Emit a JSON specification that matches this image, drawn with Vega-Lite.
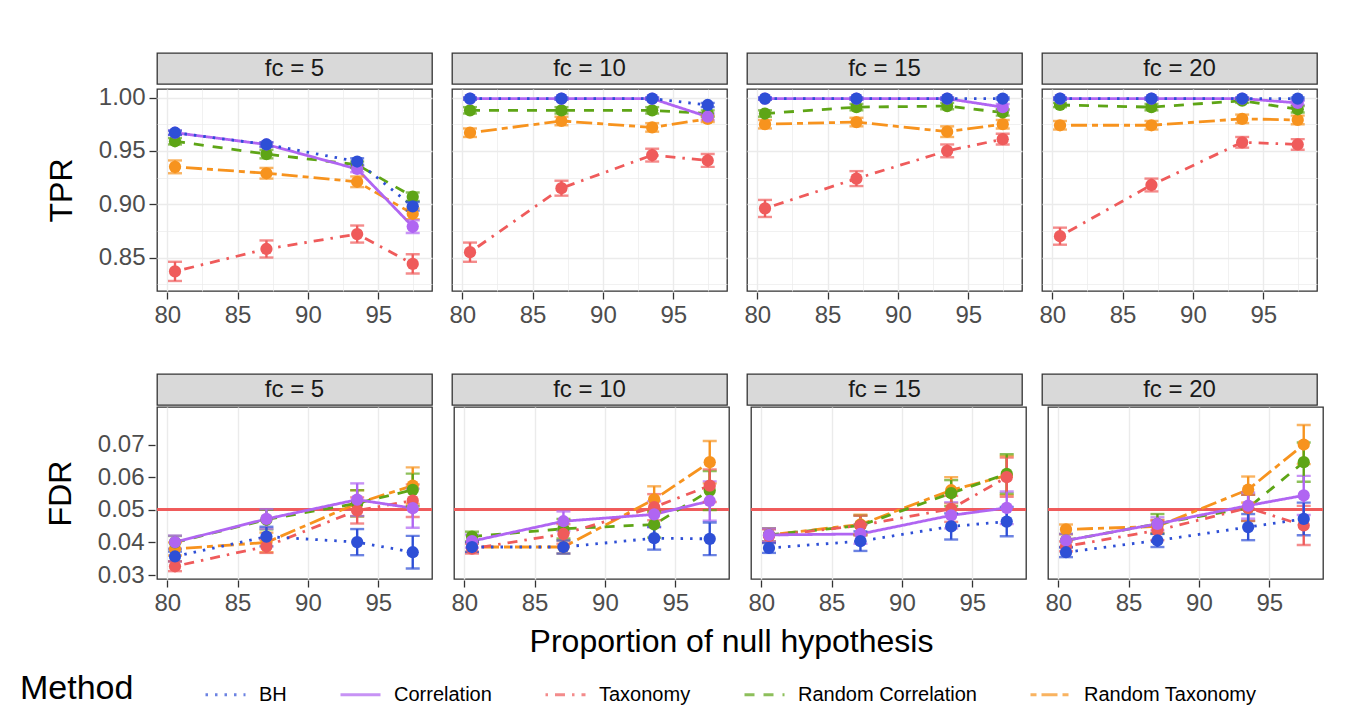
{
  "$schema": "https://vega.github.io/schema/vega-lite/v6.json",
  "padding": {"left": 20, "top": 52, "right": 20, "bottom": 0},
  "background": "white",
  "config": {
    "font": "Liberation Sans",
    "view": {"stroke": "#333333", "strokeWidth": 1.3},
    "axis": {"labelFont": "Liberation Sans", "labelFontSize": 24, "labelColor": "#4D4D4D", "tickColor": "#333333", "tickSize": 7, "tickWidth": 1.3, "domain": false, "gridColor": "#EBEBEB", "titleFont": "Liberation Sans", "titleFontWeight": "normal", "titleColor": "#000000", "titleFontSize": 32, "labelPadding": 4, "labelOverlap": false, "titlePadding": 20},
    "legend": {"direction": "horizontal", "titleOrient": "left", "titleFontSize": 34, "titleFontWeight": "normal", "titleColor": "#000000", "labelFontSize": 20, "labelColor": "#000000", "labelFont": "Liberation Sans", "titleFont": "Liberation Sans", "symbolType": "stroke", "symbolStrokeWidth": 3, "symbolSize": 1600, "columnPadding": 47, "titlePadding": 70, "labelOffset": 12, "labelLimit": 400}
  },
  "datasets": {
    "s": [{"fc": 5, "lab": "fc = 5"}, {"fc": 10, "lab": "fc = 10"}, {"fc": 15, "lab": "fc = 15"}, {"fc": 20, "lab": "fc = 20"}],
    "d": [
      {"m": "TPR", "fc": 5, "k": "Random Taxonomy", "x": 80.55, "v": 0.935, "lo": 0.929, "hi": 0.941},
      {"m": "TPR", "fc": 5, "k": "Random Taxonomy", "x": 87.05, "v": 0.929, "lo": 0.924, "hi": 0.934},
      {"m": "TPR", "fc": 5, "k": "Random Taxonomy", "x": 93.5, "v": 0.921, "lo": 0.916, "hi": 0.926},
      {"m": "TPR", "fc": 5, "k": "Random Taxonomy", "x": 97.45, "v": 0.891, "lo": 0.886, "hi": 0.896},
      {"m": "TPR", "fc": 5, "k": "Random Correlation", "x": 80.55, "v": 0.959, "lo": 0.956, "hi": 0.962},
      {"m": "TPR", "fc": 5, "k": "Random Correlation", "x": 87.05, "v": 0.947, "lo": 0.943, "hi": 0.951},
      {"m": "TPR", "fc": 5, "k": "Random Correlation", "x": 93.5, "v": 0.937, "lo": 0.934, "hi": 0.940},
      {"m": "TPR", "fc": 5, "k": "Random Correlation", "x": 97.45, "v": 0.907, "lo": 0.903, "hi": 0.911},
      {"m": "TPR", "fc": 5, "k": "Taxonomy", "x": 80.55, "v": 0.837, "lo": 0.828, "hi": 0.846},
      {"m": "TPR", "fc": 5, "k": "Taxonomy", "x": 87.05, "v": 0.858, "lo": 0.850, "hi": 0.866},
      {"m": "TPR", "fc": 5, "k": "Taxonomy", "x": 93.5, "v": 0.872, "lo": 0.864, "hi": 0.880},
      {"m": "TPR", "fc": 5, "k": "Taxonomy", "x": 97.45, "v": 0.844, "lo": 0.835, "hi": 0.853},
      {"m": "TPR", "fc": 5, "k": "Correlation", "x": 80.55, "v": 0.967, "lo": 0.965, "hi": 0.969},
      {"m": "TPR", "fc": 5, "k": "Correlation", "x": 87.05, "v": 0.956, "lo": 0.954, "hi": 0.958},
      {"m": "TPR", "fc": 5, "k": "Correlation", "x": 93.5, "v": 0.933, "lo": 0.930, "hi": 0.936},
      {"m": "TPR", "fc": 5, "k": "Correlation", "x": 97.45, "v": 0.879, "lo": 0.873, "hi": 0.885},
      {"m": "TPR", "fc": 5, "k": "BH", "x": 80.55, "v": 0.967, "lo": 0.965, "hi": 0.969},
      {"m": "TPR", "fc": 5, "k": "BH", "x": 87.05, "v": 0.956, "lo": 0.954, "hi": 0.958},
      {"m": "TPR", "fc": 5, "k": "BH", "x": 93.5, "v": 0.940, "lo": 0.937, "hi": 0.943},
      {"m": "TPR", "fc": 5, "k": "BH", "x": 97.45, "v": 0.898, "lo": 0.894, "hi": 0.902},

      {"m": "TPR", "fc": 10, "k": "Random Taxonomy", "x": 80.55, "v": 0.967, "lo": 0.963, "hi": 0.971},
      {"m": "TPR", "fc": 10, "k": "Random Taxonomy", "x": 87.05, "v": 0.978, "lo": 0.974, "hi": 0.982},
      {"m": "TPR", "fc": 10, "k": "Random Taxonomy", "x": 93.5, "v": 0.972, "lo": 0.968, "hi": 0.976},
      {"m": "TPR", "fc": 10, "k": "Random Taxonomy", "x": 97.45, "v": 0.980, "lo": 0.977, "hi": 0.983},
      {"m": "TPR", "fc": 10, "k": "Random Correlation", "x": 80.55, "v": 0.988, "lo": 0.985, "hi": 0.991},
      {"m": "TPR", "fc": 10, "k": "Random Correlation", "x": 87.05, "v": 0.988, "lo": 0.985, "hi": 0.991},
      {"m": "TPR", "fc": 10, "k": "Random Correlation", "x": 93.5, "v": 0.988, "lo": 0.985, "hi": 0.991},
      {"m": "TPR", "fc": 10, "k": "Random Correlation", "x": 97.45, "v": 0.985, "lo": 0.982, "hi": 0.988},
      {"m": "TPR", "fc": 10, "k": "Taxonomy", "x": 80.55, "v": 0.855, "lo": 0.846, "hi": 0.864},
      {"m": "TPR", "fc": 10, "k": "Taxonomy", "x": 87.05, "v": 0.915, "lo": 0.908, "hi": 0.922},
      {"m": "TPR", "fc": 10, "k": "Taxonomy", "x": 93.5, "v": 0.946, "lo": 0.940, "hi": 0.952},
      {"m": "TPR", "fc": 10, "k": "Taxonomy", "x": 97.45, "v": 0.941, "lo": 0.935, "hi": 0.947},
      {"m": "TPR", "fc": 10, "k": "Correlation", "x": 80.55, "v": 0.999, "lo": 0.998, "hi": 1.000},
      {"m": "TPR", "fc": 10, "k": "Correlation", "x": 87.05, "v": 0.999, "lo": 0.998, "hi": 1.000},
      {"m": "TPR", "fc": 10, "k": "Correlation", "x": 93.5, "v": 0.999, "lo": 0.998, "hi": 1.000},
      {"m": "TPR", "fc": 10, "k": "Correlation", "x": 97.45, "v": 0.982, "lo": 0.979, "hi": 0.985},
      {"m": "TPR", "fc": 10, "k": "BH", "x": 80.55, "v": 0.999, "lo": 0.998, "hi": 1.000},
      {"m": "TPR", "fc": 10, "k": "BH", "x": 87.05, "v": 0.999, "lo": 0.998, "hi": 1.000},
      {"m": "TPR", "fc": 10, "k": "BH", "x": 93.5, "v": 0.999, "lo": 0.998, "hi": 1.000},
      {"m": "TPR", "fc": 10, "k": "BH", "x": 97.45, "v": 0.993, "lo": 0.991, "hi": 0.995},

      {"m": "TPR", "fc": 15, "k": "Random Taxonomy", "x": 80.55, "v": 0.975, "lo": 0.971, "hi": 0.979},
      {"m": "TPR", "fc": 15, "k": "Random Taxonomy", "x": 87.05, "v": 0.977, "lo": 0.973, "hi": 0.981},
      {"m": "TPR", "fc": 15, "k": "Random Taxonomy", "x": 93.5, "v": 0.968, "lo": 0.963, "hi": 0.973},
      {"m": "TPR", "fc": 15, "k": "Random Taxonomy", "x": 97.45, "v": 0.975, "lo": 0.971, "hi": 0.979},
      {"m": "TPR", "fc": 15, "k": "Random Correlation", "x": 80.55, "v": 0.985, "lo": 0.982, "hi": 0.988},
      {"m": "TPR", "fc": 15, "k": "Random Correlation", "x": 87.05, "v": 0.991, "lo": 0.988, "hi": 0.994},
      {"m": "TPR", "fc": 15, "k": "Random Correlation", "x": 93.5, "v": 0.992, "lo": 0.989, "hi": 0.995},
      {"m": "TPR", "fc": 15, "k": "Random Correlation", "x": 97.45, "v": 0.986, "lo": 0.983, "hi": 0.989},
      {"m": "TPR", "fc": 15, "k": "Taxonomy", "x": 80.55, "v": 0.896, "lo": 0.888, "hi": 0.904},
      {"m": "TPR", "fc": 15, "k": "Taxonomy", "x": 87.05, "v": 0.924, "lo": 0.917, "hi": 0.931},
      {"m": "TPR", "fc": 15, "k": "Taxonomy", "x": 93.5, "v": 0.950, "lo": 0.944, "hi": 0.956},
      {"m": "TPR", "fc": 15, "k": "Taxonomy", "x": 97.45, "v": 0.961, "lo": 0.956, "hi": 0.966},
      {"m": "TPR", "fc": 15, "k": "Correlation", "x": 80.55, "v": 0.999, "lo": 0.998, "hi": 1.000},
      {"m": "TPR", "fc": 15, "k": "Correlation", "x": 87.05, "v": 0.999, "lo": 0.998, "hi": 1.000},
      {"m": "TPR", "fc": 15, "k": "Correlation", "x": 93.5, "v": 0.999, "lo": 0.998, "hi": 1.000},
      {"m": "TPR", "fc": 15, "k": "Correlation", "x": 97.45, "v": 0.991, "lo": 0.988, "hi": 0.994},
      {"m": "TPR", "fc": 15, "k": "BH", "x": 80.55, "v": 0.999, "lo": 0.998, "hi": 1.000},
      {"m": "TPR", "fc": 15, "k": "BH", "x": 87.05, "v": 0.999, "lo": 0.998, "hi": 1.000},
      {"m": "TPR", "fc": 15, "k": "BH", "x": 93.5, "v": 0.999, "lo": 0.998, "hi": 1.000},
      {"m": "TPR", "fc": 15, "k": "BH", "x": 97.45, "v": 0.999, "lo": 0.998, "hi": 1.000},

      {"m": "TPR", "fc": 20, "k": "Random Taxonomy", "x": 80.55, "v": 0.974, "lo": 0.970, "hi": 0.978},
      {"m": "TPR", "fc": 20, "k": "Random Taxonomy", "x": 87.05, "v": 0.974, "lo": 0.970, "hi": 0.978},
      {"m": "TPR", "fc": 20, "k": "Random Taxonomy", "x": 93.5, "v": 0.980, "lo": 0.976, "hi": 0.984},
      {"m": "TPR", "fc": 20, "k": "Random Taxonomy", "x": 97.45, "v": 0.979, "lo": 0.975, "hi": 0.983},
      {"m": "TPR", "fc": 20, "k": "Random Correlation", "x": 80.55, "v": 0.993, "lo": 0.991, "hi": 0.995},
      {"m": "TPR", "fc": 20, "k": "Random Correlation", "x": 87.05, "v": 0.991, "lo": 0.988, "hi": 0.994},
      {"m": "TPR", "fc": 20, "k": "Random Correlation", "x": 93.5, "v": 0.997, "lo": 0.995, "hi": 0.999},
      {"m": "TPR", "fc": 20, "k": "Random Correlation", "x": 97.45, "v": 0.989, "lo": 0.986, "hi": 0.992},
      {"m": "TPR", "fc": 20, "k": "Taxonomy", "x": 80.55, "v": 0.870, "lo": 0.862, "hi": 0.878},
      {"m": "TPR", "fc": 20, "k": "Taxonomy", "x": 87.05, "v": 0.918, "lo": 0.912, "hi": 0.924},
      {"m": "TPR", "fc": 20, "k": "Taxonomy", "x": 93.5, "v": 0.958, "lo": 0.953, "hi": 0.963},
      {"m": "TPR", "fc": 20, "k": "Taxonomy", "x": 97.45, "v": 0.956, "lo": 0.951, "hi": 0.961},
      {"m": "TPR", "fc": 20, "k": "Correlation", "x": 80.55, "v": 0.999, "lo": 0.998, "hi": 1.000},
      {"m": "TPR", "fc": 20, "k": "Correlation", "x": 87.05, "v": 0.999, "lo": 0.998, "hi": 1.000},
      {"m": "TPR", "fc": 20, "k": "Correlation", "x": 93.5, "v": 0.999, "lo": 0.998, "hi": 1.000},
      {"m": "TPR", "fc": 20, "k": "Correlation", "x": 97.45, "v": 0.995, "lo": 0.993, "hi": 0.997},
      {"m": "TPR", "fc": 20, "k": "BH", "x": 80.55, "v": 0.999, "lo": 0.998, "hi": 1.000},
      {"m": "TPR", "fc": 20, "k": "BH", "x": 87.05, "v": 0.999, "lo": 0.998, "hi": 1.000},
      {"m": "TPR", "fc": 20, "k": "BH", "x": 93.5, "v": 0.999, "lo": 0.998, "hi": 1.000},
      {"m": "TPR", "fc": 20, "k": "BH", "x": 97.45, "v": 0.999, "lo": 0.998, "hi": 1.000},

      {"m": "FDR", "fc": 5, "k": "Random Taxonomy", "x": 80.55, "v": 0.0380, "lo": 0.0360, "hi": 0.0400},
      {"m": "FDR", "fc": 5, "k": "Random Taxonomy", "x": 87.05, "v": 0.0400, "lo": 0.0370, "hi": 0.0430},
      {"m": "FDR", "fc": 5, "k": "Random Taxonomy", "x": 93.5, "v": 0.0520, "lo": 0.0480, "hi": 0.0560},
      {"m": "FDR", "fc": 5, "k": "Random Taxonomy", "x": 97.45, "v": 0.0574, "lo": 0.0518, "hi": 0.0630},
      {"m": "FDR", "fc": 5, "k": "Random Correlation", "x": 80.55, "v": 0.0400, "lo": 0.0380, "hi": 0.0420},
      {"m": "FDR", "fc": 5, "k": "Random Correlation", "x": 87.05, "v": 0.0470, "lo": 0.0440, "hi": 0.0500},
      {"m": "FDR", "fc": 5, "k": "Random Correlation", "x": 93.5, "v": 0.0520, "lo": 0.0480, "hi": 0.0560},
      {"m": "FDR", "fc": 5, "k": "Random Correlation", "x": 97.45, "v": 0.0561, "lo": 0.0511, "hi": 0.0611},
      {"m": "FDR", "fc": 5, "k": "Taxonomy", "x": 80.55, "v": 0.0327, "lo": 0.0312, "hi": 0.0342},
      {"m": "FDR", "fc": 5, "k": "Taxonomy", "x": 87.05, "v": 0.0388, "lo": 0.0368, "hi": 0.0408},
      {"m": "FDR", "fc": 5, "k": "Taxonomy", "x": 93.5, "v": 0.0498, "lo": 0.0458, "hi": 0.0538},
      {"m": "FDR", "fc": 5, "k": "Taxonomy", "x": 97.45, "v": 0.0528, "lo": 0.0478, "hi": 0.0578},
      {"m": "FDR", "fc": 5, "k": "Correlation", "x": 80.55, "v": 0.0401, "lo": 0.0381, "hi": 0.0421},
      {"m": "FDR", "fc": 5, "k": "Correlation", "x": 87.05, "v": 0.0472, "lo": 0.0442, "hi": 0.0502},
      {"m": "FDR", "fc": 5, "k": "Correlation", "x": 93.5, "v": 0.0531, "lo": 0.0481, "hi": 0.0581},
      {"m": "FDR", "fc": 5, "k": "Correlation", "x": 97.45, "v": 0.0505, "lo": 0.0445, "hi": 0.0565},
      {"m": "FDR", "fc": 5, "k": "BH", "x": 80.55, "v": 0.0357, "lo": 0.0342, "hi": 0.0372},
      {"m": "FDR", "fc": 5, "k": "BH", "x": 87.05, "v": 0.0418, "lo": 0.0388, "hi": 0.0448},
      {"m": "FDR", "fc": 5, "k": "BH", "x": 93.5, "v": 0.0401, "lo": 0.0361, "hi": 0.0441},
      {"m": "FDR", "fc": 5, "k": "BH", "x": 97.45, "v": 0.0370, "lo": 0.0320, "hi": 0.0420},

      {"m": "FDR", "fc": 10, "k": "Random Taxonomy", "x": 80.55, "v": 0.0386, "lo": 0.0371, "hi": 0.0401},
      {"m": "FDR", "fc": 10, "k": "Random Taxonomy", "x": 87.05, "v": 0.0386, "lo": 0.0366, "hi": 0.0406},
      {"m": "FDR", "fc": 10, "k": "Random Taxonomy", "x": 93.5, "v": 0.0532, "lo": 0.0492, "hi": 0.0572},
      {"m": "FDR", "fc": 10, "k": "Random Taxonomy", "x": 97.45, "v": 0.0646, "lo": 0.0581, "hi": 0.0711},
      {"m": "FDR", "fc": 10, "k": "Random Correlation", "x": 80.55, "v": 0.0418, "lo": 0.0403, "hi": 0.0433},
      {"m": "FDR", "fc": 10, "k": "Random Correlation", "x": 87.05, "v": 0.0442, "lo": 0.0412, "hi": 0.0472},
      {"m": "FDR", "fc": 10, "k": "Random Correlation", "x": 93.5, "v": 0.0455, "lo": 0.0415, "hi": 0.0495},
      {"m": "FDR", "fc": 10, "k": "Random Correlation", "x": 97.45, "v": 0.0559, "lo": 0.0499, "hi": 0.0619},
      {"m": "FDR", "fc": 10, "k": "Taxonomy", "x": 80.55, "v": 0.0381, "lo": 0.0366, "hi": 0.0396},
      {"m": "FDR", "fc": 10, "k": "Taxonomy", "x": 87.05, "v": 0.0426, "lo": 0.0396, "hi": 0.0456},
      {"m": "FDR", "fc": 10, "k": "Taxonomy", "x": 93.5, "v": 0.0508, "lo": 0.0468, "hi": 0.0548},
      {"m": "FDR", "fc": 10, "k": "Taxonomy", "x": 97.45, "v": 0.0574, "lo": 0.0524, "hi": 0.0624},
      {"m": "FDR", "fc": 10, "k": "Correlation", "x": 80.55, "v": 0.0404, "lo": 0.0384, "hi": 0.0424},
      {"m": "FDR", "fc": 10, "k": "Correlation", "x": 87.05, "v": 0.0465, "lo": 0.0435, "hi": 0.0495},
      {"m": "FDR", "fc": 10, "k": "Correlation", "x": 93.5, "v": 0.0486, "lo": 0.0446, "hi": 0.0526},
      {"m": "FDR", "fc": 10, "k": "Correlation", "x": 97.45, "v": 0.0527, "lo": 0.0467, "hi": 0.0587},
      {"m": "FDR", "fc": 10, "k": "BH", "x": 80.55, "v": 0.0386, "lo": 0.0371, "hi": 0.0401},
      {"m": "FDR", "fc": 10, "k": "BH", "x": 87.05, "v": 0.0386, "lo": 0.0366, "hi": 0.0406},
      {"m": "FDR", "fc": 10, "k": "BH", "x": 93.5, "v": 0.0413, "lo": 0.0378, "hi": 0.0448},
      {"m": "FDR", "fc": 10, "k": "BH", "x": 97.45, "v": 0.0411, "lo": 0.0361, "hi": 0.0461},

      {"m": "FDR", "fc": 15, "k": "Random Taxonomy", "x": 80.55, "v": 0.0423, "lo": 0.0403, "hi": 0.0443},
      {"m": "FDR", "fc": 15, "k": "Random Taxonomy", "x": 87.05, "v": 0.0455, "lo": 0.0425, "hi": 0.0485},
      {"m": "FDR", "fc": 15, "k": "Random Taxonomy", "x": 93.5, "v": 0.0560, "lo": 0.0520, "hi": 0.0600},
      {"m": "FDR", "fc": 15, "k": "Random Taxonomy", "x": 97.45, "v": 0.0605, "lo": 0.0545, "hi": 0.0665},
      {"m": "FDR", "fc": 15, "k": "Random Correlation", "x": 80.55, "v": 0.0423, "lo": 0.0403, "hi": 0.0443},
      {"m": "FDR", "fc": 15, "k": "Random Correlation", "x": 87.05, "v": 0.0452, "lo": 0.0422, "hi": 0.0482},
      {"m": "FDR", "fc": 15, "k": "Random Correlation", "x": 93.5, "v": 0.0551, "lo": 0.0511, "hi": 0.0591},
      {"m": "FDR", "fc": 15, "k": "Random Correlation", "x": 97.45, "v": 0.0610, "lo": 0.0550, "hi": 0.0670},
      {"m": "FDR", "fc": 15, "k": "Taxonomy", "x": 80.55, "v": 0.0420, "lo": 0.0400, "hi": 0.0440},
      {"m": "FDR", "fc": 15, "k": "Taxonomy", "x": 87.05, "v": 0.0452, "lo": 0.0422, "hi": 0.0482},
      {"m": "FDR", "fc": 15, "k": "Taxonomy", "x": 93.5, "v": 0.0503, "lo": 0.0463, "hi": 0.0543},
      {"m": "FDR", "fc": 15, "k": "Taxonomy", "x": 97.45, "v": 0.0600, "lo": 0.0540, "hi": 0.0660},
      {"m": "FDR", "fc": 15, "k": "Correlation", "x": 80.55, "v": 0.0423, "lo": 0.0403, "hi": 0.0443},
      {"m": "FDR", "fc": 15, "k": "Correlation", "x": 87.05, "v": 0.0426, "lo": 0.0396, "hi": 0.0456},
      {"m": "FDR", "fc": 15, "k": "Correlation", "x": 93.5, "v": 0.0483, "lo": 0.0443, "hi": 0.0523},
      {"m": "FDR", "fc": 15, "k": "Correlation", "x": 97.45, "v": 0.0506, "lo": 0.0456, "hi": 0.0556},
      {"m": "FDR", "fc": 15, "k": "BH", "x": 80.55, "v": 0.0383, "lo": 0.0368, "hi": 0.0398},
      {"m": "FDR", "fc": 15, "k": "BH", "x": 87.05, "v": 0.0404, "lo": 0.0374, "hi": 0.0434},
      {"m": "FDR", "fc": 15, "k": "BH", "x": 93.5, "v": 0.0449, "lo": 0.0409, "hi": 0.0489},
      {"m": "FDR", "fc": 15, "k": "BH", "x": 97.45, "v": 0.0464, "lo": 0.0419, "hi": 0.0509},

      {"m": "FDR", "fc": 20, "k": "Random Taxonomy", "x": 80.55, "v": 0.0440, "lo": 0.0425, "hi": 0.0455},
      {"m": "FDR", "fc": 20, "k": "Random Taxonomy", "x": 87.05, "v": 0.0449, "lo": 0.0429, "hi": 0.0469},
      {"m": "FDR", "fc": 20, "k": "Random Taxonomy", "x": 93.5, "v": 0.0562, "lo": 0.0522, "hi": 0.0602},
      {"m": "FDR", "fc": 20, "k": "Random Taxonomy", "x": 97.45, "v": 0.0700, "lo": 0.0640, "hi": 0.0760},
      {"m": "FDR", "fc": 20, "k": "Random Correlation", "x": 80.55, "v": 0.0406, "lo": 0.0386, "hi": 0.0426},
      {"m": "FDR", "fc": 20, "k": "Random Correlation", "x": 87.05, "v": 0.0457, "lo": 0.0427, "hi": 0.0487},
      {"m": "FDR", "fc": 20, "k": "Random Correlation", "x": 93.5, "v": 0.0506, "lo": 0.0466, "hi": 0.0546},
      {"m": "FDR", "fc": 20, "k": "Random Correlation", "x": 97.45, "v": 0.0646, "lo": 0.0586, "hi": 0.0706},
      {"m": "FDR", "fc": 20, "k": "Taxonomy", "x": 80.55, "v": 0.0388, "lo": 0.0373, "hi": 0.0403},
      {"m": "FDR", "fc": 20, "k": "Taxonomy", "x": 87.05, "v": 0.0437, "lo": 0.0407, "hi": 0.0467},
      {"m": "FDR", "fc": 20, "k": "Taxonomy", "x": 93.5, "v": 0.0506, "lo": 0.0466, "hi": 0.0546},
      {"m": "FDR", "fc": 20, "k": "Taxonomy", "x": 97.45, "v": 0.0452, "lo": 0.0392, "hi": 0.0512},
      {"m": "FDR", "fc": 20, "k": "Correlation", "x": 80.55, "v": 0.0406, "lo": 0.0386, "hi": 0.0426},
      {"m": "FDR", "fc": 20, "k": "Correlation", "x": 87.05, "v": 0.0457, "lo": 0.0437, "hi": 0.0477},
      {"m": "FDR", "fc": 20, "k": "Correlation", "x": 93.5, "v": 0.0513, "lo": 0.0473, "hi": 0.0553},
      {"m": "FDR", "fc": 20, "k": "Correlation", "x": 97.45, "v": 0.0544, "lo": 0.0484, "hi": 0.0604},
      {"m": "FDR", "fc": 20, "k": "BH", "x": 80.55, "v": 0.0370, "lo": 0.0355, "hi": 0.0385},
      {"m": "FDR", "fc": 20, "k": "BH", "x": 87.05, "v": 0.0406, "lo": 0.0386, "hi": 0.0426},
      {"m": "FDR", "fc": 20, "k": "BH", "x": 93.5, "v": 0.0447, "lo": 0.0407, "hi": 0.0487},
      {"m": "FDR", "fc": 20, "k": "BH", "x": 97.45, "v": 0.0472, "lo": 0.0422, "hi": 0.0522}
    ]
  },
  "spacing": 46,
  "vconcat": [
    {
      "spacing": 0,
      "vconcat": [
        {
          "data": {"name": "s"},
          "facet": {"column": {"field": "fc", "type": "ordinal", "header": null}},
          "spacing": 18,
          "spec": {
            "width": 275, "height": 31,
            "view": {"fill": "#D9D9D9", "stroke": "#333333", "strokeWidth": 1.3},
            "mark": {"type": "text", "fontSize": 24, "color": "#1A1A1A", "font": "Liberation Sans"},
            "encoding": {"text": {"field": "lab"}}
          }
        },
        {
          "data": {"name": "d"},
          "transform": [{"filter": "datum.m === 'TPR'"}, {"calculate": "datum.k", "as": "style"}],
          "facet": {"column": {"field": "fc", "type": "ordinal", "header": null}},
          "spacing": 18,
          "spec": {
            "width": 275, "height": 202,
            "encoding": {
              "x": {"field": "x", "type": "quantitative", "scale": {"domain": [79.27, 98.82], "nice": false, "zero": false},
                "axis": {"title": null, "values": [80, 82.5, 85, 87.5, 90, 92.5, 95, 97.5], "labelOverlap": false, "labelExpr": "datum.value % 5 === 0 ? datum.label : ''",
                  "tickOpacity": {"condition": {"test": "datum.value % 5 === 0", "value": 1}, "value": 0},
                  "gridWidth": {"condition": {"test": "datum.value % 5 === 0", "value": 1.4}, "value": 0.7}}},
              "color": {"field": "k", "type": "nominal", "title": "Method",
                "scale": {"domain": ["BH", "Correlation", "Taxonomy", "Random Correlation", "Random Taxonomy"], "range": ["#2E4FD6", "#B065F2", "#EF5B5B", "#5EA516", "#F7931E"]},
                "legend": {"symbolType": "stroke", "orient": "none", "legendX": -137, "legendY": 620}}
            },
            "layer": [
              {"mark": {"type": "line", "strokeWidth": 2.8},
                "encoding": {
                  "y": {"field": "v", "type": "quantitative", "scale": {"domain": [0.8186, 1.008], "nice": false, "zero": false},
                    "axis": {"title": "TPR", "values": [0.825, 0.85, 0.875, 0.9, 0.925, 0.95, 0.975, 1.0], "labelOverlap": false,
                      "labelExpr": "abs(datum.value*20 - round(datum.value*20)) < 0.001 ? format(datum.value, '.2f') : ''",
                      "tickOpacity": {"condition": {"test": "abs(datum.value*20 - round(datum.value*20)) < 0.001", "value": 1}, "value": 0},
                      "gridWidth": {"condition": {"test": "abs(datum.value*20 - round(datum.value*20)) < 0.001", "value": 1.4}, "value": 0.7}}},
                  "strokeDash": {"field": "style", "type": "nominal", "legend": null,
                    "scale": {"domain": ["BH", "Correlation", "Taxonomy", "Random Correlation", "Random Taxonomy"], "range": [[2.5, 7], [1, 0], [2.5, 7, 10, 7], [10, 9], [6, 5, 16, 5]]}}
                }},
              {"mark": {"type": "errorbar", "rule": {"strokeWidth": 2.4}, "ticks": {"size": 14, "thickness": 2.4}},
                "encoding": {"y": {"field": "lo", "type": "quantitative", "title": "TPR",
                    "axis": {"title": "TPR", "values": [0.825, 0.85, 0.875, 0.9, 0.925, 0.95, 0.975, 1.0], "labelOverlap": false,
                      "labelExpr": "abs(datum.value*20 - round(datum.value*20)) < 0.001 ? format(datum.value, '.2f') : ''",
                      "tickOpacity": {"condition": {"test": "abs(datum.value*20 - round(datum.value*20)) < 0.001", "value": 1}, "value": 0},
                      "gridWidth": {"condition": {"test": "abs(datum.value*20 - round(datum.value*20)) < 0.001", "value": 1.4}, "value": 0.7}}},
                  "y2": {"field": "hi"}}},
              {"mark": {"type": "point", "filled": true, "size": 150, "opacity": 1},
                "encoding": {"y": {"field": "v", "type": "quantitative",
                    "axis": {"title": "TPR", "values": [0.825, 0.85, 0.875, 0.9, 0.925, 0.95, 0.975, 1.0], "labelOverlap": false,
                      "labelExpr": "abs(datum.value*20 - round(datum.value*20)) < 0.001 ? format(datum.value, '.2f') : ''",
                      "tickOpacity": {"condition": {"test": "abs(datum.value*20 - round(datum.value*20)) < 0.001", "value": 1}, "value": 0},
                      "gridWidth": {"condition": {"test": "abs(datum.value*20 - round(datum.value*20)) < 0.001", "value": 1.4}, "value": 0.7}}}}}
            ]
          }
        }
      ]
    },
    {
      "spacing": 0,
      "vconcat": [
        {
          "data": {"name": "s"},
          "facet": {"column": {"field": "fc", "type": "ordinal", "header": null}},
          "spacing": 18,
          "spec": {
            "width": 275, "height": 31,
            "view": {"fill": "#D9D9D9", "stroke": "#333333", "strokeWidth": 1.3},
            "mark": {"type": "text", "fontSize": 24, "color": "#1A1A1A", "font": "Liberation Sans"},
            "encoding": {"text": {"field": "lab"}}
          }
        },
        {
          "data": {"name": "d"},
          "transform": [{"filter": "datum.m === 'FDR'"}, {"calculate": "datum.k", "as": "style"}],
          "facet": {"column": {"field": "fc", "type": "ordinal", "header": null}},
          "spacing": 18,
          "title": {"text": "Proportion of null hypothesis", "orient": "bottom", "anchor": "middle", "frame": "bounds", "dx": 47, "fontSize": 32, "fontWeight": "normal", "font": "Liberation Sans", "color": "#000000", "offset": 12},
          "spec": {
            "width": 275, "height": 172,
            "encoding": {
              "color": {"field": "k", "type": "nominal", "title": "Method",
                "scale": {"domain": ["BH", "Correlation", "Taxonomy", "Random Correlation", "Random Taxonomy"], "range": ["#2E4FD6", "#B065F2", "#EF5B5B", "#5EA516", "#F7931E"]},
                "legend": {"symbolType": "stroke", "orient": "none", "legendX": -137, "legendY": 620}}
            },
            "layer": [
              {"mark": {"type": "rule", "strokeWidth": 2},
                "encoding": {"y": {"datum": 0.05, "type": "quantitative"}, "color": {"value": "#EF5B5B"}}},
              {"mark": {"type": "line", "strokeWidth": 2.8},
                "encoding": {
                  "x": {"field": "x", "type": "quantitative", "scale": {"domain": [79.27, 98.82], "nice": false, "zero": false},
                    "axis": {"title": null, "values": [80, 82.5, 85, 87.5, 90, 92.5, 95, 97.5], "labelOverlap": false, "labelExpr": "datum.value % 5 === 0 ? datum.label : ''",
                      "tickOpacity": {"condition": {"test": "datum.value % 5 === 0", "value": 1}, "value": 0},
                      "gridWidth": {"condition": {"test": "datum.value % 5 === 0", "value": 1.4}, "value": 0.7}}},
                  "y": {"field": "v", "type": "quantitative", "scale": {"domain": [0.0288, 0.0815], "nice": false, "zero": false},
                    "axis": {"title": "FDR", "values": [0.03, 0.035, 0.04, 0.045, 0.05, 0.055, 0.06, 0.065, 0.07, 0.075], "labelOverlap": false,
                      "labelExpr": "abs(datum.value*100 - round(datum.value*100)) < 0.001 ? format(datum.value, '.2f') : ''",
                      "tickOpacity": {"condition": {"test": "abs(datum.value*100 - round(datum.value*100)) < 0.001", "value": 1}, "value": 0},
                      "gridWidth": {"condition": {"test": "abs(datum.value*100 - round(datum.value*100)) < 0.001", "value": 1.4}, "value": 0.7}}},
                  "strokeDash": {"field": "style", "type": "nominal", "legend": null,
                    "scale": {"domain": ["BH", "Correlation", "Taxonomy", "Random Correlation", "Random Taxonomy"], "range": [[2.5, 7], [1, 0], [2.5, 7, 10, 7], [10, 9], [6, 5, 16, 5]]}}
                }},
              {"mark": {"type": "errorbar", "rule": {"strokeWidth": 2.4}, "ticks": {"size": 14, "thickness": 2.4}},
                "encoding": {"x": {"field": "x", "type": "quantitative"}, "y": {"field": "lo", "type": "quantitative", "title": "FDR"}, "y2": {"field": "hi"}}},
              {"mark": {"type": "point", "filled": true, "size": 150, "opacity": 1},
                "encoding": {"x": {"field": "x", "type": "quantitative"}, "y": {"field": "v", "type": "quantitative"}}}
            ]
          }
        }
      ]
    }
  ]
}
